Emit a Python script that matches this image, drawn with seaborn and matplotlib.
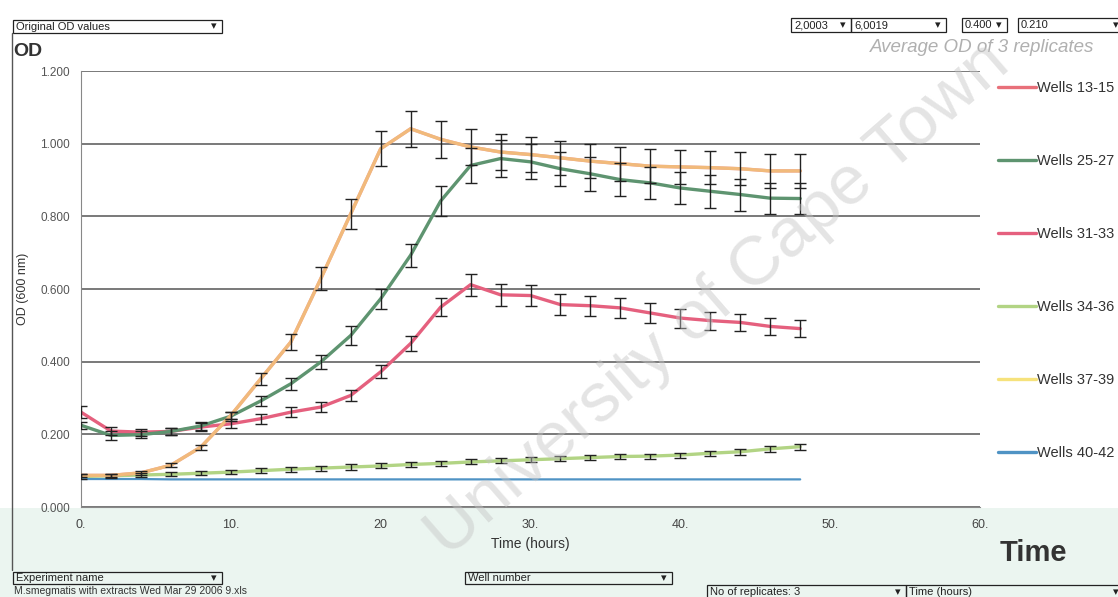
import matplotlib
matplotlib.use("Agg")
import matplotlib.pyplot as plt
from matplotlib.lines import Line2D
from matplotlib.patches import Rectangle
import pandas as pd
import seaborn as sns

# ==============================
# 1. Data
# ==============================
hours = [0, 2, 4, 6, 8, 10, 12, 14, 16, 18, 20, 22, 24,
         26, 28, 30, 32, 34, 36, 38, 40, 42, 44, 46, 48]

wells = ["Wells 13-15", "Wells 25-27", "Wells 31-33",
         "Wells 34-36", "Wells 37-39", "Wells 40-42"]

od_13_15 = [0.087, 0.087, 0.094, 0.115, 0.165, 0.252, 0.353, 0.454, 0.628, 0.807, 0.986, 1.041, 1.012,
            0.991, 0.977, 0.970, 0.961, 0.952, 0.945, 0.938, 0.936, 0.934, 0.931, 0.925, 0.925]
od_25_27 = [0.225, 0.197, 0.199, 0.208, 0.223, 0.250, 0.292, 0.339, 0.399, 0.472, 0.573, 0.693, 0.842,
            0.940, 0.959, 0.950, 0.931, 0.917, 0.901, 0.892, 0.878, 0.869, 0.860, 0.850, 0.849]
od_31_33 = [0.261, 0.209, 0.206, 0.208, 0.220, 0.229, 0.243, 0.261, 0.275, 0.307, 0.372, 0.450, 0.550,
            0.612, 0.584, 0.582, 0.557, 0.554, 0.548, 0.534, 0.520, 0.513, 0.508, 0.497, 0.491]
od_34_36 = [0.084, 0.086, 0.088, 0.090, 0.093, 0.096, 0.100, 0.104, 0.107, 0.110, 0.113, 0.117, 0.120,
            0.124, 0.127, 0.130, 0.133, 0.136, 0.139, 0.140, 0.143, 0.148, 0.152, 0.160, 0.166]
od_37_39 = [0.087, 0.087, 0.094, 0.115, 0.165, 0.252, 0.353, 0.454, 0.628, 0.807, 0.986, 1.041, 1.012,
            0.991, 0.977, 0.970, 0.961, 0.952, 0.945, 0.938, 0.936, 0.934, 0.931, 0.925, 0.925]
od_40_42 = [0.077, 0.077, 0.077, 0.076, 0.076, 0.076, 0.076, 0.076, 0.076, 0.076, 0.076, 0.076, 0.076,
            0.076, 0.076, 0.076, 0.076, 0.076, 0.076, 0.076, 0.076, 0.076, 0.076, 0.076, 0.076]

# standard deviations (error bars)
sd_13_15 = [0.004, 0.004, 0.005, 0.006, 0.007, 0.010, 0.016, 0.023, 0.032, 0.041, 0.048, 0.050, 0.051,
            0.050, 0.050, 0.048, 0.047, 0.047, 0.047, 0.046, 0.046, 0.046, 0.046, 0.046, 0.046]
sd_25_27 = [0.010, 0.012, 0.010, 0.010, 0.012, 0.012, 0.014, 0.016, 0.020, 0.025, 0.028, 0.032, 0.042,
            0.048, 0.050, 0.048, 0.047, 0.046, 0.046, 0.045, 0.045, 0.045, 0.044, 0.043, 0.042]
sd_31_33 = [0.016, 0.010, 0.010, 0.010, 0.010, 0.012, 0.014, 0.014, 0.014, 0.016, 0.018, 0.020, 0.024,
            0.030, 0.030, 0.030, 0.028, 0.028, 0.028, 0.027, 0.026, 0.025, 0.024, 0.024, 0.024]
sd_34_36 = [0.006, 0.006, 0.006, 0.006, 0.006, 0.006, 0.006, 0.007, 0.007, 0.007, 0.007, 0.007, 0.007,
            0.007, 0.007, 0.007, 0.007, 0.007, 0.007, 0.007, 0.007, 0.007, 0.008, 0.008, 0.008]

x_ticks = [0, 10, 20, 30, 40, 50, 60]
x_tick_labels = ["0.", "10.", "20", "30.", "40.", "50.", "60."]
y_ticks = [0.0, 0.2, 0.4, 0.6, 0.8, 1.0, 1.2]

series = {
    "Wells 13-15": (od_13_15, sd_13_15),
    "Wells 25-27": (od_25_27, sd_25_27),
    "Wells 31-33": (od_31_33, sd_31_33),
    "Wells 34-36": (od_34_36, sd_34_36),
    "Wells 37-39": (od_37_39, None),
    "Wells 40-42": (od_40_42, None),
}

colors = {
    "Wells 13-15": "#e8707a",
    "Wells 25-27": "#5e9470",
    "Wells 31-33": "#e5607e",
    "Wells 34-36": "#b2d484",
    "Wells 37-39": "#f6e27c",
    "Wells 40-42": "#4f93c4",
}

rows = []
for w in wells:
    for h, v in zip(hours, series[w][0]):
        rows.append({"hours": h, "od": v, "well": w})
df = pd.DataFrame(rows)

# ==============================
# 2. Figure
# ==============================
sns.set_style("white")
plt.rcParams["font.family"] = ["Liberation Sans", "DejaVu Sans"]

W, H = 1118, 597
def px(x):
    return x / W
def py(y):
    return 1 - y / H

fig = plt.figure(figsize=(W / 100, H / 100), dpi=100)
fig.patch.set_facecolor("white")

# light mint tint of the scan at the bottom
fig.add_artist(Rectangle((0, 0), 1, py(508), transform=fig.transFigure,
                         color="#ebf5f0", lw=0, zorder=-5))

ax = fig.add_axes([px(81), py(507), px(980) - px(81), py(71) - py(507)])
ax.set_facecolor("white")

draw_order = ["Wells 40-42", "Wells 34-36", "Wells 31-33", "Wells 25-27", "Wells 13-15", "Wells 37-39"]
for w in draw_order:
    sub = df[df["well"] == w]
    lw = 1.6 if w == "Wells 40-42" else 2.4
    alpha = 0.65 if w == "Wells 37-39" else 1.0
    sns.lineplot(data=sub, x="hours", y="od", color=colors[w], lw=lw, alpha=alpha,
                 ax=ax, legend=False, zorder=3)
    sd = series[w][1]
    if sd is not None:
        ax.errorbar(sub["hours"], sub["od"], yerr=sd, fmt="none", ecolor="#222222",
                    elinewidth=1.0, capsize=4, capthick=1.0, zorder=4)

ax.set_xlim(0, 60)
ax.set_ylim(0, 1.2)
ax.set_xticks(x_ticks)
ax.set_xticklabels(x_tick_labels, fontsize=9, color="#444444",
                   family=["Liberation Sans Narrow", "Liberation Sans"])
ax.set_yticks(y_ticks)
ax.set_yticklabels([f"{v:.3f}" for v in y_ticks], fontsize=8.5, color="#555555")
ax.yaxis.grid(True, color="#6e6e6e", lw=1.3)
ax.xaxis.grid(False)
for s in ["top", "right"]:
    ax.spines[s].set_visible(False)
ax.spines["left"].set_color("#888888")
ax.spines["bottom"].set_color("#888888")
ax.tick_params(axis="y", direction="out", length=5, width=1, color="#888888", pad=3)
ax.tick_params(axis="x", direction="out", length=3, width=1, color="#888888", pad=6)
ax.set_xlabel("Time (hours)", fontsize=10, color="#333333", labelpad=4)
ax.set_ylabel("OD (600 nm)", fontsize=9, color="#333333", labelpad=8)

# legend
handles = [Line2D([0], [0], color=colors[w], lw=2.4) for w in wells]
leg = fig.legend(handles, wells, loc="upper left", bbox_to_anchor=(px(998), py(81)),
                 bbox_transform=fig.transFigure, frameon=False, fontsize=10.5,
                 labelspacing=4.05, handlelength=2.6, handletextpad=0.1,
                 borderpad=0, borderaxespad=0)
for t in leg.get_texts():
    t.set_color("#333333")

# headings
fig.text(px(13), py(52), "OD", fontsize=14, fontweight="bold", color="#333333", va="center")
fig.text(px(1000), py(553), "Time", fontsize=21, fontweight="bold", color="#333333", va="center")
fig.text(px(870), py(47), "Average OD of 3 replicates", fontsize=13.5, style="italic",
         color="#b0b0b0", va="center")

# scan frame at left
fig.add_artist(Line2D([px(12), px(12)], [py(33), py(570)], transform=fig.transFigure,
                      color="#555555", lw=1))


def dropdown(x0, y0, x1, y1, label, fs=8):
    fig.add_artist(Rectangle((px(x0), py(y1)), px(x1) - px(x0), py(y0) - py(y1),
                             transform=fig.transFigure, fill=False, ec="#222222", lw=0.9))
    fig.text(px(x0 + 3), py((y0 + y1) / 2), label, fontsize=fs, va="center", ha="left",
             color="#222222")
    fig.text(px(x1 - 8), py((y0 + y1) / 2), "\u25be", fontsize=fs, va="center", ha="center",
             color="#222222", family=["DejaVu Sans"])


dropdown(13, 20, 222, 33, "Original OD values")
dropdown(791, 18, 851, 32, "2,0003")
dropdown(851, 18, 946, 32, "6,0019")
dropdown(962, 18, 1007, 32, "0.400")
dropdown(1018, 18, 1124, 32, "0.210")
dropdown(13, 572, 222, 584, "Experiment name")
dropdown(465, 572, 672, 584, "Well number")
dropdown(707, 585, 906, 599, "No of replicates: 3")
dropdown(906, 585, 1124, 599, "Time (hours)")
fig.text(px(14), py(591), "M.smegmatis with extracts Wed Mar 29 2006 9.xls", fontsize=7.5,
         color="#333333", va="center")

# faint watermark from the scan
fig.text(px(718), py(300), "University of Cape Town", rotation=41, fontsize=50, color="#c4c4c4",
         alpha=0.45, ha="center", va="center")

plt.savefig("out.png", dpi=100)
plt.close()
